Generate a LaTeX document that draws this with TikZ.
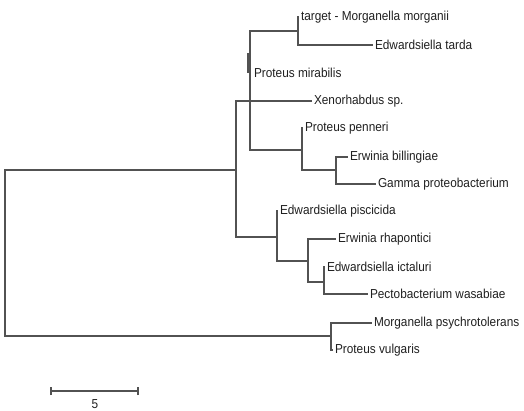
\documentclass[tikz,border=0pt]{standalone}
\usepackage{fontspec}
\setmainfont{Liberation Sans}[FakeStretch=0.91]
\usepackage{tikz}
\usetikzlibrary{positioning}
\tikzset {
taxon/.style={anchor=west,inner sep=2pt,outer sep=0pt,font=\fontsize{13}{15}\selectfont,text=black!88},
ast/.style={line width=1.8pt,draw=black!68}
}

\begin{document}
\begin{tikzpicture}
[x=1pt,y=-1pt]
\useasboundingbox (0, 0) rectangle (524, 410);
\coordinate (root) at (5, 253);
\coordinate (nA) at (236, 170);
\coordinate (nB) at (250, 101);
\coordinate (nC) at (298, 31);
\coordinate (nD) at (248, 53);
\coordinate (nDend) at (248, 73);
\coordinate (nE) at (302, 150);
\coordinate (nF) at (336, 170);
\coordinate (nG) at (277, 237);
\coordinate (nH) at (308, 261);
\coordinate (nI) at (324, 282);
\coordinate (nJ) at (331, 336);
\node (target) at (299, 17) [taxon] {target - Morganella morganii};
\node (tarda) at (373, 45) [taxon] {Edwardsiella tarda};
\node (mirab) at (252, 73) [taxon] {Proteus mirabilis};
\node (xeno) at (312, 101) [taxon] {Xenorhabdus sp.};
\node (penneri) at (303, 128) [taxon] {Proteus penneri};
\node (billing) at (348, 157) [taxon] {Erwinia billingiae};
\node (gamma) at (376, 184) [taxon] {Gamma proteobacterium};
\node (pisc) at (278, 211) [taxon] {Edwardsiella piscicida};
\node (rhap) at (336, 239) [taxon] {Erwinia rhapontici};
\node (ictal) at (325, 267) [taxon] {Edwardsiella ictaluri};
\node (pecto) at (368, 294) [taxon] {Pectobacterium wasabiae};
\node (psych) at (372, 323) [taxon] {Morganella psychrotolerans};
\node (vulg) at (333, 350) [taxon] {Proteus vulgaris};
\draw[ast] (root) |- (nA);
\draw[ast] (root) |- (nJ);
\draw[ast] (nA) |- (nB);
\draw[ast] (nA) |- (nG);
\draw[ast] (nB) |- (nC);
\draw[ast] (nB) |- (nE);
\draw[ast] (nB) |- (xeno.west);
\draw[ast] (nD) -- (nDend);
\draw[ast] (nC) |- (target.west);
\draw[ast] (nC) |- (tarda.west);
\draw[ast] (nE) |- (penneri.west);
\draw[ast] (nE) |- (nF);
\draw[ast] (nF) |- (billing.west);
\draw[ast] (nF) |- (gamma.west);
\draw[ast] (nG) |- (pisc.west);
\draw[ast] (nG) |- (nH);
\draw[ast] (nH) |- (rhap.west);
\draw[ast] (nH) |- (nI);
\draw[ast] (nI) |- (ictal.west);
\draw[ast] (nI) |- (pecto.west);
\draw[ast] (nJ) |- (psych.west);
\draw[ast] (nJ) |- (vulg.west);
% scale bar
\coordinate (sL) at (51, 391);
\coordinate (sR) at (138, 391);
\draw[ast] (sL) -- (sR);
\draw[ast] ([yshift=-4pt]sL) -- ([yshift=4pt]sL);
\draw[ast] ([yshift=-4pt]sR) -- ([yshift=4pt]sR);
\node (skala) at (95, 404) [taxon,anchor=center] {5};
\end{tikzpicture}
\end{document}
